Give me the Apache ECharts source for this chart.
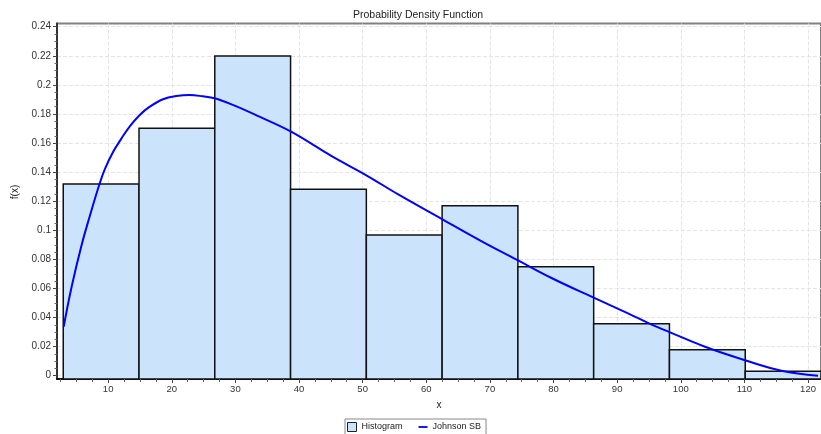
<!DOCTYPE html>
<html>
<head>
<meta charset="utf-8">
<script src="https://cdn.jsdelivr.net/npm/echarts@6/dist/echarts.min.js"></script>
<style>
  html, body { margin: 0; padding: 0; background: #fff; }
  #chart { width: 821px; height: 434px; }
</style>
</head>
<body>
<div id="chart"></div>
<script>
// histogram bins (left edge, relative frequency)
const binStart = [2.94, 14.85, 26.76, 38.67, 50.58, 62.49, 74.40, 86.31, 98.22, 110.13];
const binWidth = 11.91;
const binFreq = [0.1318, 0.1701, 0.2199, 0.1282, 0.0968, 0.1169, 0.0750, 0.0358, 0.0179, 0.0030];

// Johnson SB fitted curve
const curveX = [3.01, 4.26, 5.83, 7.13, 8.59, 9.48, 10.79, 12.10, 13.40, 14.97, 16.54, 18.62,
  20.72, 22.81, 24.89, 26.73, 29.60, 33.78, 38.75, 45.27, 50.51, 55.73, 62.27, 68.79,
  74.28, 79.76, 86.14, 91.79, 94.92, 98.22, 103.81, 109.97, 115.82, 121.57];
const curveY = [0.0337, 0.0612, 0.0899, 0.1100, 0.1311, 0.1420, 0.1540, 0.1632, 0.1715, 0.1793, 0.1850, 0.1901,
  0.1923, 0.1930, 0.1921, 0.1908, 0.1862, 0.1781, 0.1678, 0.1506, 0.1380, 0.1243, 0.1082, 0.0922,
  0.0796, 0.0670, 0.0540, 0.0427, 0.0362, 0.0300, 0.0199, 0.0108, 0.0034, 0.0000];

// axis ticks
const xTicks = [10, 20, 30, 40, 50, 60, 70, 80, 90, 100, 110, 120];
const yTicks = [0, 0.02, 0.04, 0.06, 0.08, 0.1, 0.12, 0.14, 0.16, 0.18, 0.2, 0.22, 0.24];
const xRange = [1.96, 122.04];
const yRange = [-0.00227, 0.2422];

const xMinor = [];
for (let v = 2.5; v < 122; v += 2.5) if (v % 10 !== 0) xMinor.push(v);
const yMinor = [];
for (let i = 1; i <= 48; i++) if (i % 4 !== 0) yMinor.push(+(i * 0.005).toFixed(3));

const histData = binStart.map((s, i) => [s, s + binWidth, binFreq[i]]);
const curveData = curveX.map((x, i) => [x, curveY[i]]);

const font = 'Arial, "Liberation Sans", sans-serif';
const gridLine = { show: true, lineStyle: { color: '#e4e4e4', type: [4, 2], width: 1 } };

const chart = echarts.init(document.getElementById('chart'));
chart.setOption({
  animation: false,
  textStyle: { fontFamily: font },
  title: {
    text: 'Probability Density Function',
    left: 353, top: 10, padding: 0,
    textStyle: { fontSize: 10.5, fontWeight: 'normal', color: '#222' }
  },
  legend: {
    left: 345, top: 419,
    padding: [3, 5, 3, 2],
    borderColor: '#888', borderWidth: 1,
    itemWidth: 9, itemHeight: 9, itemGap: 16,
    textStyle: { fontSize: 9, color: '#222' },
    data: [
      { name: 'Histogram', icon: 'rect', itemStyle: { color: '#cce4fb', borderColor: '#222', borderWidth: 1 } },
      { name: 'Johnson SB', icon: 'path://M0,4h10v2h-10z', itemStyle: { color: '#0000ff' } }
    ]
  },
  grid: {
    left: 57, right: -2, top: 23.5, bottom: 55,
    show: true, borderColor: '#808080', borderWidth: 2
  },
  graphic: [{
    type: 'text', x: 15, y: 192, rotation: Math.PI / 2,
    style: { text: 'f(x)', fontSize: 10, fontFamily: font, fill: '#222', align: 'center', verticalAlign: 'middle' }
  }],
  xAxis: [{
    type: 'value', min: xRange[0], max: xRange[1], position: 'bottom',
    name: 'x', nameLocation: 'middle', nameGap: 21,
    nameTextStyle: { fontSize: 10, color: '#222' },
    axisLine: { onZero: false, lineStyle: { color: '#111', width: 2 } },
    axisTick: { customValues: xTicks, length: 4, lineStyle: { color: '#444' } },
    axisLabel: { customValues: xTicks, fontSize: 9.5, color: '#333', margin: 5 },
    splitLine: gridLine
  }, {
    type: 'value', min: xRange[0], max: xRange[1], position: 'bottom',
    axisLine: { show: false, onZero: false },
    axisTick: { customValues: xMinor, length: 3, lineStyle: { color: '#666' } },
    axisLabel: { show: false },
    splitLine: { show: false }
  }],
  yAxis: [{
    type: 'value', min: yRange[0], max: yRange[1], position: 'left',
    axisLine: { show: true, onZero: false, lineStyle: { color: '#333', width: 2 } },
    axisTick: { customValues: yTicks, length: 4, lineStyle: { color: '#444' } },
    axisLabel: { customValues: yTicks, fontSize: 10, color: '#333', margin: 6,
      formatter: v => String(+v.toFixed(3)) },
    splitLine: gridLine
  }, {
    type: 'value', min: yRange[0], max: yRange[1], position: 'left',
    axisLine: { show: false, onZero: false },
    axisTick: { customValues: yMinor, length: 2.5, lineStyle: { color: '#666' } },
    axisLabel: { show: false },
    splitLine: { show: false }
  }],
  series: [{
    name: 'Histogram',
    type: 'custom',
    clip: true,
    data: histData,
    renderItem: (params, api) => {
      const p0 = api.coord([api.value(0), api.value(2)]);
      const p1 = api.coord([api.value(1), yRange[0]]);
      return {
        type: 'rect',
        shape: { x: p0[0], y: p0[1], width: p1[0] - p0[0], height: p1[1] - p0[1] },
        style: { fill: '#cce4fb', stroke: '#111', lineWidth: 1.5 }
      };
    },
    encode: { x: [0, 1], y: 2 },
    itemStyle: { color: '#cce4fb' },
    z: 2
  }, {
    name: 'Johnson SB',
    type: 'line',
    data: curveData,
    smooth: 0.4,
    showSymbol: false,
    lineStyle: { color: '#0000ff', width: 2 },
    itemStyle: { color: '#0000ff' },
    z: 3
  }]
});
</script>
</body>
</html>
